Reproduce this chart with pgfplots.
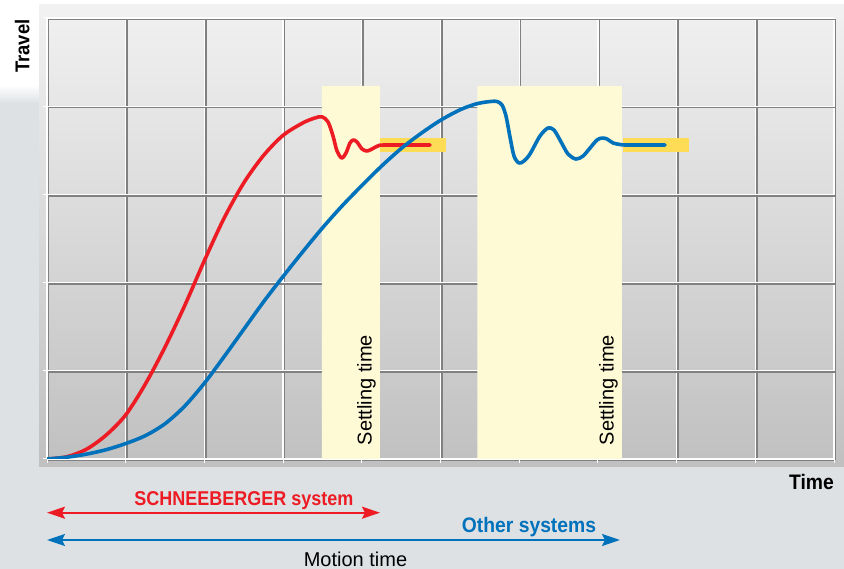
\documentclass[border=0pt]{standalone}
\usepackage{pgfplots}
\pgfplotsset{compat=1.18}
\usepackage{fontspec}
\setmainfont{Liberation Sans}
\newfontfamily\condA{Liberation Sans}[FakeStretch=0.92]
\newfontfamily\condB{Liberation Sans}[FakeStretch=0.90]
\usetikzlibrary{arrows.meta}
\definecolor{cred}{HTML}{ED1C24}
\definecolor{cblue}{HTML}{0072BC}
\definecolor{bandc}{HTML}{FFFAD6}
\definecolor{goldc}{HTML}{FFDC55}
\definecolor{bgc}{HTML}{DEE1E4}
\definecolor{panT}{HTML}{F1F1F1}
\definecolor{panB}{HTML}{C0C0C0}
\definecolor{shadc}{HTML}{808080}
\begin{document}
\begin{tikzpicture}
\useasboundingbox (0,0) rectangle (844bp,569bp);
\fill[bgc] (0,0) rectangle (844bp,569bp);
\fill[white] (0,484bp) rectangle (40bp,569bp);
\shade[top color=white,bottom color=bgc] (0,466bp) rectangle (40bp,484bp);
\shade[top color=panT, bottom color=panB] (39bp,102.5bp) rectangle (844bp,565bp);
\fill[white] (39bp,565bp) rectangle (844bp,569bp);
\begin{axis}[
  at={(47bp,110bp)}, anchor=south west,
  scale only axis, width=787bp, height=441bp,
  xmin=0, xmax=10, ymin=0, ymax=5,
  xtick={0,1,...,10}, ytick={0,1,...,5},
  xticklabels={}, yticklabels={},
  grid=major,
  major grid style={draw=white, line width=1.3bp,
    preaction={draw=shadc, line width=1.6bp, transform canvas={shift={(1.4bp,-1.4bp)}}}},
  axis line style={draw=none},
  tick pos=left, tick align=outside, major tick length=4bp,
  tick style={draw=white, line width=1bp},
]
% settling time bands
\addplot[fill=bandc, draw=none] coordinates {(3.494,0) (3.494,4.229) (4.231,4.229) (4.231,0)} \closedcycle;
\addplot[fill=bandc, draw=none] coordinates {(5.468,0) (5.468,4.229) (7.306,4.229) (7.306,0)} \closedcycle;
% target bars
\addplot[fill=goldc, draw=none] coordinates {(4.231,3.48) (4.231,3.64) (5.066,3.64) (5.066,3.48)} --cycle;
\addplot[fill=goldc, draw=none] coordinates {(7.315,3.48) (7.315,3.64) (8.158,3.64) (8.158,3.48)} --cycle;
% red curve
\addplot[cred, line width=3.6bp, smooth, tension=0.5, line cap=round, line join=round] coordinates {
(0,0) (0.25,0.025) (0.5,0.11) (0.75,0.27) (1.0,0.50) (1.25,0.85) (1.5,1.27) (1.75,1.74) (2.0,2.25)
(2.25,2.73) (2.5,3.13) (2.75,3.44) (3.0,3.67) (3.25,3.81) (3.4,3.865) (3.494,3.88)
(3.571,3.822) (3.634,3.663) (3.685,3.492) (3.745,3.413) (3.799,3.469) (3.850,3.583) (3.892,3.617)
(3.939,3.594) (4.003,3.515) (4.066,3.492) (4.130,3.515) (4.206,3.55) (4.295,3.56) (4.867,3.56)};
% blue curve
\addplot[cblue, line width=3.6bp, smooth, tension=0.5, line cap=round, line join=round] coordinates {
(0,0) (0.25,0.02) (0.5,0.055) (0.75,0.105) (1.0,0.175) (1.25,0.265) (1.5,0.40) (1.75,0.60) (2.0,0.86)
(2.25,1.16) (2.5,1.47) (2.75,1.78) (3.0,2.07) (3.25,2.35) (3.5,2.62) (3.75,2.87) (4.0,3.10)
(4.25,3.32) (4.5,3.52) (4.75,3.69) (5.0,3.84) (5.25,3.96) (5.45,4.025) (5.6,4.05) (5.714,4.054)
(5.781,4.014) (5.832,3.889) (5.883,3.651) (5.934,3.435) (5.997,3.356) (6.061,3.379) (6.137,3.458)
(6.264,3.662) (6.366,3.753) (6.442,3.730) (6.518,3.617) (6.620,3.458) (6.722,3.401) (6.811,3.435)
(6.900,3.526) (6.989,3.617) (7.052,3.639) (7.116,3.628) (7.192,3.583) (7.281,3.566) (7.370,3.56) (7.853,3.56)};
\end{axis}
% labels
\node[rotate=90, anchor=base, inner sep=0pt, font=\fontsize{20bp}{24bp}\selectfont] at (371.7bp,179bp) {Settling time};
\node[rotate=90, anchor=base, inner sep=0pt, font=\fontsize{20bp}{24bp}\selectfont] at (613.7bp,179bp) {Settling time};
\node[rotate=90, anchor=base east, inner sep=0pt, font=\condA\bfseries\fontsize{20bp}{24bp}\selectfont] at (29.3bp,549.7bp) {Travel};
\node[anchor=base east, inner sep=0pt, font=\condA\bfseries\fontsize{21bp}{25bp}\selectfont] at (834bp,79bp) {Time};
% arrows
\draw[cred, line width=2bp, {Stealth[length=18bp,width=12bp,inset=3bp]}-{Stealth[length=18bp,width=12bp,inset=3bp]}] (47bp,56.3bp) -- (380bp,56.3bp);
\draw[cblue, line width=2bp, {Stealth[length=18bp,width=12bp,inset=3bp]}-{Stealth[length=18bp,width=12bp,inset=3bp]}] (47bp,29bp) -- (620bp,29bp);
\node[anchor=base, inner sep=0pt, text=cred, font=\condB\bfseries\fontsize{20bp}{24bp}\selectfont] at (244bp,63bp) {SCHNEEBERGER system};
\node[anchor=base, inner sep=0pt, text=cblue, font=\condA\bfseries\fontsize{21bp}{25bp}\selectfont] at (529bp,37bp) {Other systems};
\node[anchor=base, inner sep=0pt, font=\fontsize{20bp}{24bp}\selectfont] at (355.5bp,3bp) {Motion time};
\end{tikzpicture}
\end{document}
